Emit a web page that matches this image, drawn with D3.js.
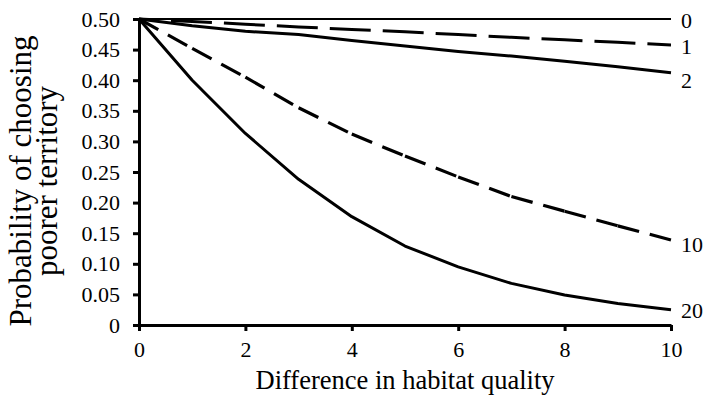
<!DOCTYPE html>
<html>
<head>
<meta charset="utf-8">
<script src="https://cdn.jsdelivr.net/npm/d3@7"></script>
<style>
  html, body { margin: 0; padding: 0; background: #fff; }
  svg { display: block; }
  text { font-family: "Liberation Serif", "Times New Roman", serif; fill: #000; }
</style>
</head>
<body>
<svg id="chart" width="714" height="396"></svg>
<script>
// Difference in habitat quality (x) and the probability of picking the poorer territory
const habitatDiff = [0, 1, 2, 3, 4, 5, 6, 7, 8, 9, 10];

const seriesNames = ["0", "1", "2", "10", "20"];
const p0  = [0.5, 0.5, 0.5, 0.5, 0.5, 0.5, 0.5, 0.5, 0.5, 0.5, 0.5];
const p1  = [0.5, 0.496, 0.4915, 0.487, 0.483, 0.479, 0.4745, 0.470, 0.466, 0.462, 0.4575];
const p2  = [0.5, 0.489, 0.480, 0.4745, 0.465, 0.456, 0.447, 0.4395, 0.431, 0.422, 0.412];
const p10 = [0.5, 0.452, 0.405, 0.355, 0.312, 0.276, 0.242, 0.21, 0.186, 0.162, 0.139];
const p20 = [0.5, 0.40, 0.313, 0.238, 0.177, 0.129, 0.095, 0.068, 0.049, 0.035, 0.025];
const seriesValues = [p0, p1, p2, p10, p20];

const xTicks = [0, 2, 4, 6, 8, 10];
const yTicks = [0, 0.05, 0.10, 0.15, 0.20, 0.25, 0.30, 0.35, 0.40, 0.45, 0.50];
const yTickLabels = ["0", "0.05", "0.10", "0.15", "0.20", "0.25", "0.30", "0.35", "0.40", "0.45", "0.50"];

const xTitle = "Difference in habitat quality";
const yTitleLines = ["Probability of choosing", "poorer territory"];

// ---- layout ----
const margin = { left: 139, top: 19, right: 43, bottom: 71 };
const W = 714, H = 396;
const plotW = W - margin.left - margin.right;
const plotH = H - margin.top - margin.bottom;

const svg = d3.select("#chart");
const g = svg.append("g").attr("transform", `translate(${margin.left},${margin.top})`);

const x = d3.scaleLinear().domain([0, 10]).range([0, plotW]);
const y = d3.scaleLinear().domain([0, 0.5]).range([plotH, 0]);

// line styles per series: solid / long dash / dash
const styles = {
  "0":  { width: 2.2, dash: null },
  "1":  { width: 3, dash: "41 12", offset: 21 },
  "2":  { width: 3, dash: null },
  "10": { width: 3.2, dash: "22 11", perSegment: true },
  "20": { width: 3, dash: null }
};
const labelNudge = { "0": 1, "1": 1, "2": 7, "10": 4, "20": 1 };

const line = d3.line().x((d) => x(d[0])).y((d) => y(d[1]));

seriesNames.forEach((name, i) => {
  const pts = habitatDiff.map((d, j) => [d, seriesValues[i][j]]);
  const st = styles[name];
  if (st.perSegment) {
    // dash pattern restarts on every segment
    for (let j = 0; j < pts.length - 1; j++) {
      g.append("path")
        .attr("d", line([pts[j], pts[j + 1]]))
        .attr("fill", "none")
        .attr("stroke", "#000")
        .attr("stroke-width", st.width)
        .attr("stroke-dasharray", st.dash);
    }
  } else {
    const p = g.append("path")
      .attr("d", line(pts))
      .attr("fill", "none")
      .attr("stroke", "#000")
      .attr("stroke-width", st.width)
      .attr("stroke-linejoin", "round");
    if (st.dash) p.attr("stroke-dasharray", st.dash).attr("stroke-dashoffset", st.offset || 0);
  }
  const last = pts[pts.length - 1];
  g.append("text")
    .attr("x", x(last[0]) + 10)
    .attr("y", y(last[1]) + labelNudge[name])
    .attr("dy", "0.35em")
    .attr("font-size", 22)
    .text(name);
});

// ---- axes ----
const yAxis = d3.axisLeft(y)
  .tickValues(yTicks)
  .tickFormat((d, i) => yTickLabels[i])
  .tickSize(6)
  .tickSizeOuter(0)
  .tickPadding(13);
const yg = g.append("g").call(yAxis);

const xAxis = d3.axisBottom(x)
  .tickValues(xTicks)
  .tickFormat(d3.format("d"))
  .tickSize(6)
  .tickSizeOuter(0)
  .tickPadding(10);
const xg = g.append("g").attr("transform", `translate(0,${plotH})`).call(xAxis);

[yg, xg].forEach((ax) => {
  ax.select(".domain").attr("stroke", "#000").attr("stroke-width", 3);
  ax.selectAll(".tick line").attr("stroke", "#000").attr("stroke-width", 3);
  ax.selectAll(".tick text")
    .attr("font-size", 22)
    .attr("fill", "#000");
});

// ---- titles ----
svg.append("text")
  .attr("x", margin.left + plotW / 2)
  .attr("y", 389)
  .attr("text-anchor", "middle")
  .attr("font-size", 26.5)
  .text(xTitle);

const yt = svg.append("text")
  .attr("transform", "translate(0,181) rotate(-90)")
  .attr("text-anchor", "middle")
  .attr("font-size", 31);
yt.append("tspan").attr("x", 0).attr("y", 31).text(yTitleLines[0]);
yt.append("tspan").attr("x", 0).attr("y", 57).text(yTitleLines[1]);
</script>
</body>
</html>
